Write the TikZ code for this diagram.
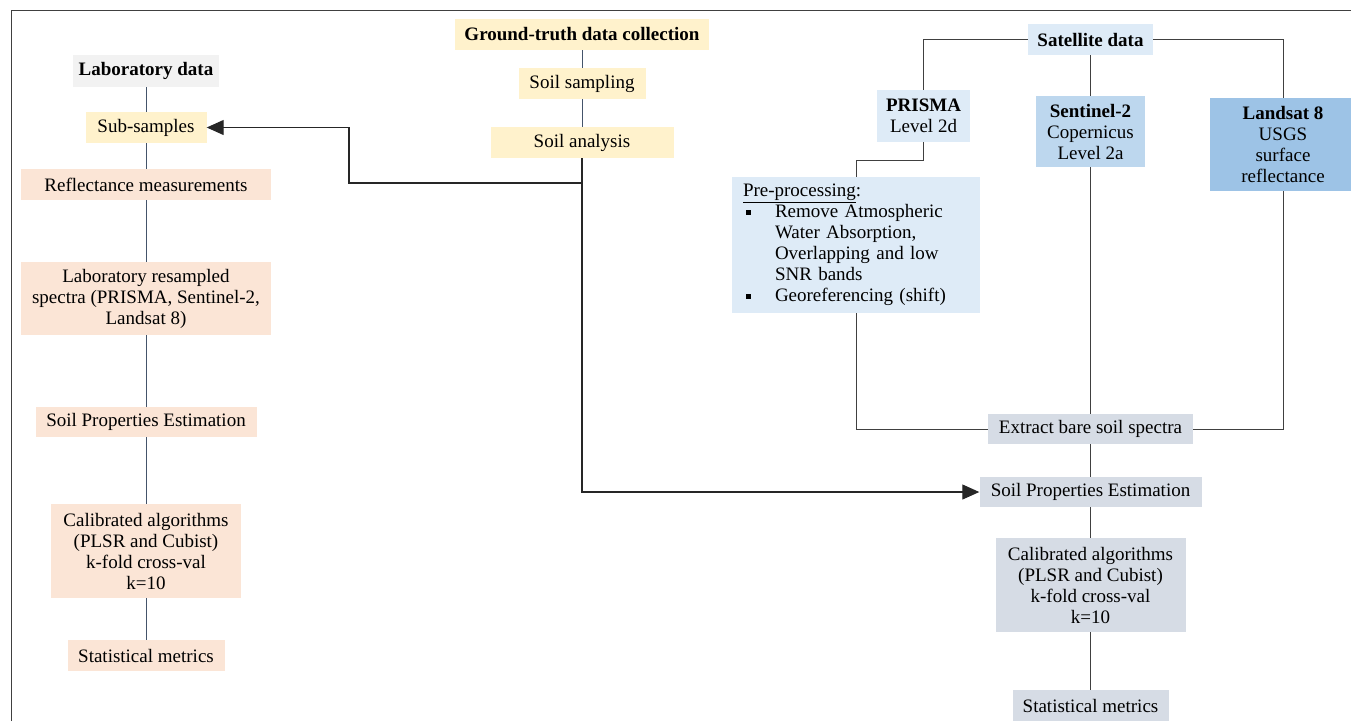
\documentclass[tikz,border=0pt]{standalone}
\usepackage{fontspec}
\setmainfont{Liberation Serif}
\usetikzlibrary{arrows.meta}
\definecolor{labgray}{HTML}{F2F2F2}
\definecolor{fieldyellow}{HTML}{FFF2CC}
\definecolor{labpeach}{HTML}{FBE5D6}
\definecolor{satpale}{HTML}{DEEBF7}
\definecolor{satmid}{HTML}{BDD7EE}
\definecolor{satdark}{HTML}{9DC3E6}
\definecolor{satgray}{HTML}{D6DCE5}
\definecolor{slateline}{HTML}{44546A}
\definecolor{frameline}{HTML}{404040}
\begin{document}
\begin{tikzpicture}[x=1pt,y=-1pt]
            \tikzset{
                box/.style={inner sep=0pt, align=center, font=\fontsize{19}{21}\selectfont},
                sz/.style 2 args={minimum width=#1, minimum height=#2},
                link/.style={slateline, line width=0.8pt},
                wire/.style={frameline, line width=1pt},
                feed/.style={black!85, line width=1.2pt, -{Triangle[length=17pt,width=15pt]}}
            }
            \useasboundingbox (0,0) rectangle (1351,721);
            \draw[frameline, line width=1pt] (11,721) -- (11,10) -- (1351,10);

            % laboratory branch
            \draw node[box, fill=labgray, sz={146}{32}] (labdata) at (146,71) {\textbf{Laboratory data}};
            \draw node[box, fill=fieldyellow, sz={121}{31}] (subsamp) at (146,127.5) {Sub-samples};
            \draw node[box, fill=labpeach, sz={250}{31}] (reflect) at (146,184.5) {Reflectance measurements};
            \draw node[box, fill=labpeach, sz={250}{73}] (resamp) at (146,298.5) {Laboratory resampled\\spectra (PRISMA, Sentinel-2,\\Landsat 8)};
            \draw node[box, fill=labpeach, sz={221}{30}] (labest) at (146,422) {Soil Properties Estimation};
            \draw node[box, fill=labpeach, sz={190}{94}] (labcal) at (146,551) {Calibrated algorithms\\(PLSR and Cubist)\\k-fold cross-val\\k=10};
            \draw node[box, fill=labpeach, sz={157}{31}] (labstat) at (146,655.5) {Statistical metrics};

            % field branch
            \draw node[box, fill=fieldyellow, sz={254}{31}] (ground) at (582,34.5) {\textbf{Ground-truth data collection}};
            \draw node[box, fill=fieldyellow, sz={127}{31}] (sampling) at (582,83.5) {Soil sampling};
            \draw node[box, fill=fieldyellow, sz={183}{31}] (analysis) at (582,142.5) {Soil analysis};

            % satellite branch
            \draw node[box, fill=satpale, sz={125}{31}] (satdata) at (1090.5,39.5) {\textbf{Satellite data}};
            \draw node[box, fill=satpale, sz={93}{52}] (prisma) at (923.5,116) {\textbf{PRISMA}\\Level 2d};
            \draw node[box, fill=satmid, sz={109}{71}] (sentinel) at (1090.5,131.5) {\textbf{Sentinel-2}\\Copernicus\\Level 2a};
            \draw node[box, fill=satdark, sz={146}{93}] (landsat) at (1283,144.5) {\textbf{Landsat 8}\\USGS\\surface\\reflectance};
            \draw node[box, fill=satpale, sz={248}{136}, text width=226pt, align=left] (preproc) at (856,245) {%
                \underline{Pre-processing}:\\
                \makebox[32pt][l]{\hspace{3pt}\rule[3pt]{5pt}{5pt}}Remove Atmospheric\\
                \hspace*{32pt}Water Absorption,\\
                \hspace*{32pt}Overlapping and low\\
                \hspace*{32pt}SNR bands\\
                \makebox[32pt][l]{\hspace{3pt}\rule[3pt]{5pt}{5pt}}Georeferencing (shift)};
            \draw node[box, fill=satgray, sz={205}{30}] (extract) at (1090.5,429) {Extract bare soil spectra};
            \draw node[box, fill=satgray, sz={222}{30}] (satest) at (1090.5,492) {Soil Properties Estimation};
            \draw node[box, fill=satgray, sz={190}{94}] (satcal) at (1090.5,585) {Calibrated algorithms\\(PLSR and Cubist)\\k-fold cross-val\\k=10};
            \draw node[box, fill=satgray, sz={156}{31}] (satstat) at (1090.5,705.5) {Statistical metrics};

            \foreach \x/\y in {%
                labdata/subsamp,subsamp/reflect,reflect/resamp,resamp/labest,labest/labcal,labcal/labstat,%
                ground/sampling,sampling/analysis%
            }{
            \draw[link] (\x) -- (\y);
            }
            \foreach \x/\y in {%
                satdata/sentinel,sentinel/extract,extract/satest,satest/satcal,satcal/satstat%
            }{
            \draw[wire] (\x) -- (\y);
            }
            \draw[wire] (satdata.west) -| (prisma.north);
            \draw[wire] (satdata.east) -| (landsat.north);
            \draw[wire] (prisma.south) -- (923.5,160) -| (preproc.north);
            \draw[wire] (preproc.south) |- (extract.west);
            \draw[wire] (landsat.south) |- (extract.east);

            \draw[feed] (analysis.south) -- (582,183) -- (349,183) |- (subsamp.east);
            \draw[feed] (analysis.south) |- (satest.west);
        \end{tikzpicture}
\end{document}
